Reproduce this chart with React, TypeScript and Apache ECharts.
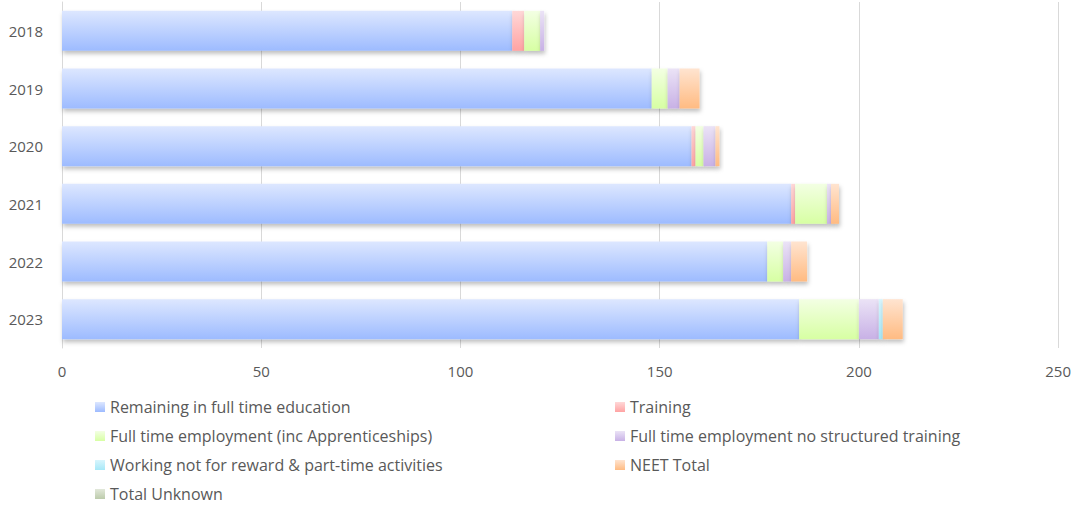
import React, { useEffect, useRef } from "react";
import * as echarts from "echarts";

const years = ["2018", "2019", "2020", "2021", "2022", "2023"];
const remaining = [113, 148, 158, 183, 177, 185];
const training = [3, 0, 1, 1, 0, 0];
const ftEmployment = [4, 4, 2, 8, 4, 15];
const ftNoTraining = [1, 3, 3, 1, 2, 5];
const workingNotReward = [0, 0, 0, 0, 0, 1];
const neet = [0, 5, 1, 2, 4, 5];
const unknown = [0, 0, 0, 0, 0, 0];
const xTicks = [0, 50, 100, 150, 200, 250];

const seriesNames = [
  "Remaining in full time education",
  "Training",
  "Full time employment (inc Apprenticeships)",
  "Full time employment no structured training",
  "Working not for reward & part-time activities",
  "NEET Total",
  "Total Unknown",
];
const seriesData = [remaining, training, ftEmployment, ftNoTraining, workingNotReward, neet, unknown];
const colorsTop = ["#dde7ff", "#ffd8d8", "#f3ffe3", "#ebe3f6", "#d8f5fd", "#ffe4d0", "#e2e8da"];
const colorsBottom = ["#9dbbff", "#ffa3a3", "#d7ffa3", "#c8b1e6", "#a6e8f8", "#ffbb82", "#bccbab"];

export default function App() {
  const ref = useRef<HTMLDivElement>(null);
  useEffect(() => {
    if (!ref.current) return;
    document.body.style.margin = "0";
    const chart = echarts.init(ref.current, undefined, { renderer: "svg" });
    const font = "'Open Sans', 'Liberation Sans', sans-serif";
    const legendBase = {
      top: 394,
      height: 112,
      orient: "vertical",
      itemWidth: 10,
      itemHeight: 10,
      itemGap: 13,
      icon: "rect",
      textStyle: { color: "#595959", fontSize: 16, fontFamily: font },
    };
    chart.setOption({
      animation: false,
      textStyle: { fontFamily: font },
      grid: { left: 62, right: 12, top: 2, height: 346 },
      xAxis: {
        type: "value",
        min: 0,
        max: 250,
        interval: 50,
        axisLine: { show: false },
        axisTick: { show: false },
        splitLine: { lineStyle: { color: "#d9d9d9" } },
        axisLabel: {
          color: "#595959",
          fontSize: 15,
          margin: 15,
          formatter: (v: number) => (xTicks.includes(v) ? String(v) : ""),
        },
      },
      yAxis: {
        type: "category",
        data: years,
        inverse: true,
        axisLine: { show: true, lineStyle: { color: "#d9d9d9" } },
        axisTick: { show: false },
        axisLabel: { color: "#595959", fontSize: 15, margin: 19 },
      },
      legend: [
        {
          ...legendBase,
          left: 90,
          data: [seriesNames[0], seriesNames[2], seriesNames[4], seriesNames[6]],
        },
        {
          ...legendBase,
          left: 610,
          data: [seriesNames[1], seriesNames[3], seriesNames[5]],
        },
      ],
      series: seriesNames.map((name, i) => ({
        name,
        type: "bar",
        stack: "total",
        barWidth: 40,
        data: seriesData[i],
        itemStyle: {
          color: new echarts.graphic.LinearGradient(0, 0, 0, 1, [
            { offset: 0, color: colorsTop[i] },
            { offset: 1, color: colorsBottom[i] },
          ]),
          shadowColor: "rgba(0,0,0,0.25)",
          shadowBlur: 4,
          shadowOffsetX: 1,
          shadowOffsetY: 3,
        },
      })),
    });
    return () => chart.dispose();
  }, []);
  return <div ref={ref} style={{ width: 1074, height: 505 }} />;
}
